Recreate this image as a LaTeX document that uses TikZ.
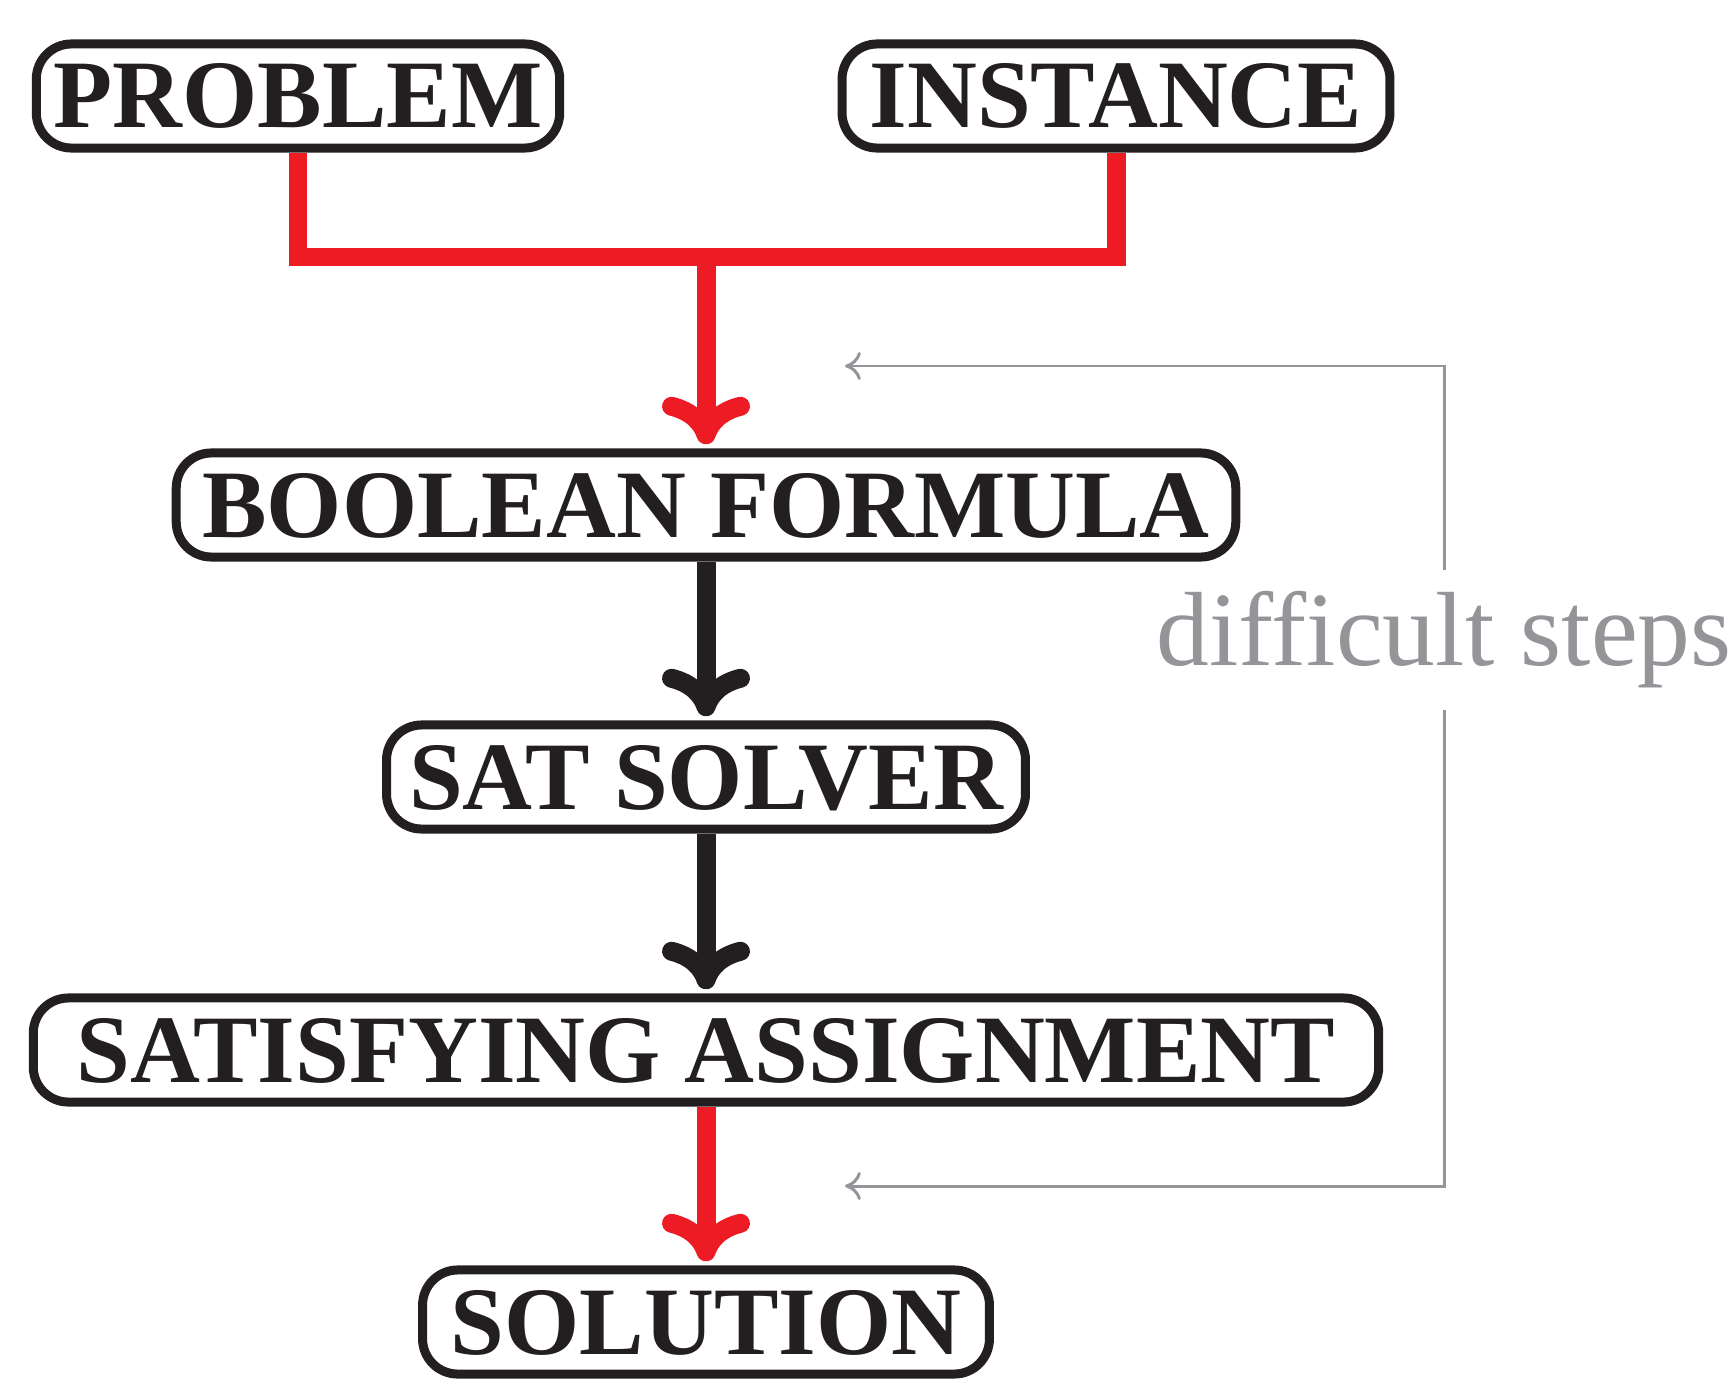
\documentclass[tikz,border=0pt]{standalone}
\usepackage{fontspec}
\setmainfont{Liberation Serif}
\usepackage{tikz}
\usetikzlibrary{arrows.meta,calc,positioning}
\definecolor{satred}{HTML}{ED1C24}
\definecolor{satblack}{HTML}{231F20}
\definecolor{satgray}{HTML}{939598}

\begin{document}
\begin{tikzpicture}[x=0.01cm,y=-0.01cm,
        stepbox/.style={draw=satblack,line width=2.56pt,rounded corners=10pt,fill=white,
            inner xsep=6pt,inner ysep=0pt,minimum height=29.6pt,
            text height=18.2pt,text depth=0pt,text=satblack,
            font=\fontsize{27.5}{30}\selectfont\bfseries},
        flow/.style={line width=5.4pt,shorten >=1.2pt,
            -{Computer Modern Rightarrow[length=13.5pt,width=25pt]}},
        redflow/.style={flow,satred},
        blackflow/.style={flow,satblack},
        grayflow/.style={satgray,line width=0.85pt,
            -{Computer Modern Rightarrow[length=4.5pt,width=8pt]}}]
            \useasboundingbox (0,0) rectangle (1736,1379);
            \coordinate (join) at (706,257);
            \coordinate (ctop) at (845,366);
            \coordinate (cbot) at (845,1186);
            %Boxes
            \node[stepbox,inner xsep=4.9pt] (problem) at (298,96) {PROBLEM};
            \node[stepbox,minimum width=155.8pt] (instance) at (1116,96) {INSTANCE};
            \node[stepbox,minimum width=301.3pt] (formula) at (706,505) {BOOLEAN FORMULA};
            \node[stepbox,minimum width=181.7pt] (solver) at (706,777) {SAT SOLVER};
            \node[stepbox,minimum width=382.6pt] (assign) at (706,1050) {SATISFYING ASSIGNMENT};
            \node[stepbox,minimum width=161.2pt] (solution) at (706,1322) {SOLUTION};
            %Label
            \node[satgray,inner xsep=0pt,inner ysep=6pt,font=\fontsize{30}{33}\selectfont]
                (hard) at (1444,640) {difficult steps};
            %Red join
            \draw[satred,line width=5.4pt,line join=miter] (problem.south) |- (join) -| (instance.south);
            %Arrows
            \draw[redflow] (join) -- (formula.north);
            \draw[blackflow] (formula.south) -- (solver.north);
            \draw[blackflow] (solver.south) -- (assign.north);
            \draw[redflow] (assign.south) -- (solution.north);
            %Bracket
            \draw[grayflow] (hard.north) |- (ctop);
            \draw[grayflow] (hard.south) |- (cbot);
        \end{tikzpicture}
\end{document}
